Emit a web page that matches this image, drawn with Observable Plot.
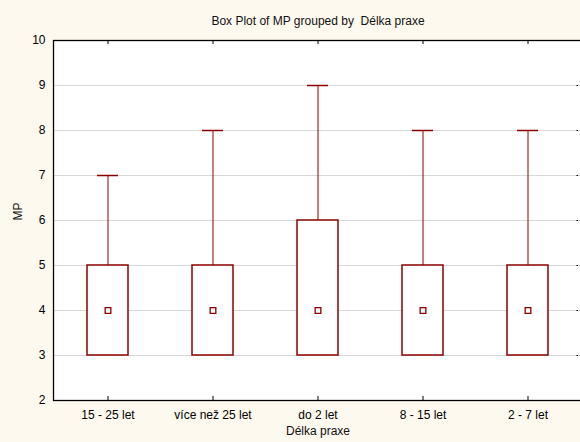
<!DOCTYPE html>
<html>
<head>
<meta charset="utf-8">
<script src="https://cdn.jsdelivr.net/npm/d3@7"></script>
<script src="https://cdn.jsdelivr.net/npm/@observablehq/plot@0.6"></script>
<style>
  html, body { margin: 0; padding: 0; background: #fdf9ef; overflow: hidden; }
  #chart svg { display: block; }
</style>
</head>
<body>
<div id="chart"></div>
<script>
// Experience groups (Délka praxe) in display order
const groups = ["15 - 25 let", "více než 25 let", "do 2 let", "8 - 15 let", "2 - 7 let"];
// Box statistics of MP for each group
const minima  = [3, 3, 3, 3, 3];
const q1      = [3, 3, 3, 3, 3];
const medians = [4, 4, 4, 4, 4];
const q3      = [5, 5, 6, 5, 5];
const maxima  = [7, 8, 9, 8, 8];
// Y axis ticks
const yTicks = [2, 3, 4, 5, 6, 7, 8, 9, 10];

const rows = groups.map((g, i) => ({
  group: g, min: minima[i], q1: q1[i], median: medians[i], q3: q3[i], max: maxima[i]
}));

const boxColor = "#8b0000";
const font = "'Liberation Sans', Arial, sans-serif";
const lastGroup = groups[groups.length - 1];

const chart = Plot.plot({
  width: 580,
  height: 442,
  marginLeft: 53,
  marginRight: -2,
  marginTop: 40,
  marginBottom: 42,
  style: { background: "#fdf9ef", fontFamily: font, fontSize: "12px", color: "#000", overflow: "hidden" },
  x: { domain: groups, padding: 0, label: null },
  y: { domain: [2, 10], ticks: yTicks, label: null },
  marks: [
    Plot.frame({ fill: "white" }),
    Plot.gridY(yTicks, { stroke: "#d8d8d8", strokeOpacity: 1 }),
    // inward tick marks on the frame
    Plot.ruleX(groups, { x: d => d, y1: 2, y2: 2.09, stroke: "#000" }),
    Plot.ruleX(groups, { x: d => d, y1: 10, y2: 9.91, stroke: "#000" }),
    Plot.tickY(yTicks, { x: () => lastGroup, y: d => d, stroke: "#000", insetLeft: 101.5, insetRight: 2 }),
    Plot.axisX({ tickSize: 0, tickPadding: 10, fontSize: 12, label: null }),
    Plot.axisY({ ticks: yTicks, tickSize: 0, tickPadding: 8, fontSize: 12, label: null }),
    // upper whiskers and caps
    Plot.ruleX(rows, { x: "group", y1: "q3", y2: "max", stroke: boxColor, strokeWidth: 1 }),
    Plot.tickY(rows, { x: "group", y: "max", stroke: boxColor, strokeWidth: 1.5, insetLeft: 42, insetRight: 42 }),
    // lower whiskers
    Plot.ruleX(rows, { x: "group", y1: "min", y2: "q1", stroke: boxColor, strokeWidth: 1 }),
    // boxes
    Plot.barY(rows, { x: "group", y1: "q1", y2: "q3", fill: "white", stroke: boxColor, strokeWidth: 1.5, insetLeft: 32, insetRight: 32 }),
    // medians
    Plot.dot(rows, { x: "group", y: "median", symbol: "square", r: 3.2, fill: "white", stroke: boxColor, strokeWidth: 1.3 }),
    Plot.frame({ stroke: "#000", strokeWidth: 1.3 }),
    // titles
    Plot.text(["Box Plot of MP grouped by  Délka praxe"], { frameAnchor: "top", dy: -24, fontSize: 12, fill: "#111" }),
    Plot.text(["Délka praxe"], { frameAnchor: "bottom", dy: 34, fontSize: 12, fill: "#111" }),
    Plot.text(["MP"], { frameAnchor: "left", dx: -35, rotate: -90, fontSize: 12, fill: "#111" })
  ]
});

document.getElementById("chart").appendChild(chart);
</script>
</body>
</html>
